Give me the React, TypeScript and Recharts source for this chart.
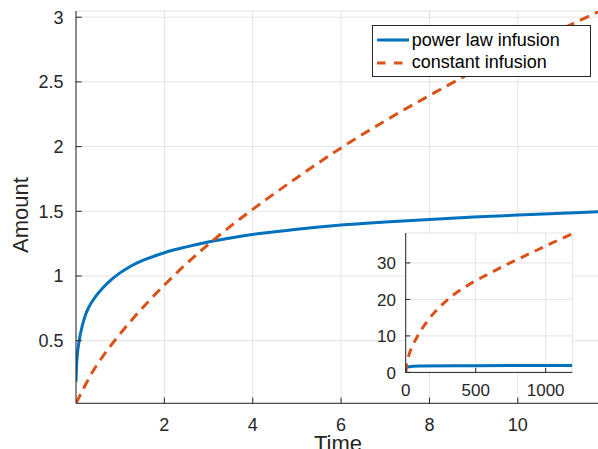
import React from "react";
import { LineChart, Line, XAxis, YAxis, CartesianGrid, Legend, Label } from "recharts";

// main axes: time vs amount
const powerT = [0, 0.01, 0.03, 0.075, 0.15, 0.226, 0.3, 0.45, 0.6, 0.8, 0.98, 1.2, 1.36, 1.7, 2, 2.5, 3.02, 3.6, 4.2, 5, 6, 7, 8, 9, 10, 11, 11.86];
const powerAmt = [0.183, 0.29, 0.39, 0.505, 0.625, 0.71, 0.765, 0.845, 0.905, 0.971, 1.02, 1.068, 1.097, 1.145, 1.18, 1.225, 1.265, 1.3, 1.33, 1.362, 1.394, 1.417, 1.437, 1.455, 1.471, 1.485, 1.497];

const constT = [0, 0.2, 0.376, 0.6, 0.98, 1.3, 1.66, 2, 2.5, 3.05, 3.5, 4, 5, 6, 7, 8, 9, 10, 11, 11.86];
const constAmt = [0.016, 0.15, 0.26, 0.375, 0.545, 0.675, 0.81, 0.93, 1.095, 1.26, 1.385, 1.515, 1.76, 1.99, 2.2, 2.395, 2.58, 2.745, 2.91, 3.048];

const xTicks = [2, 4, 6, 8, 10];
const yTicks = [0.5, 1, 1.5, 2, 2.5, 3];

// inset: long time range
const insetPowerT = [0, 1, 12, 100, 500, 1190];
const insetPowerAmt = [0.18, 1.02, 1.5, 1.75, 1.85, 1.9];

const insetConstT = [0, 3, 12, 25, 50, 90, 161, 245, 340, 459, 602, 745, 888, 1031, 1190];
const insetConstAmt = [0, 1.3, 3.05, 5.0, 7.4, 10.3, 14.4, 18.0, 21.2, 24.2, 27.2, 30.0, 32.6, 35.2, 38.0];

const insetXTicks = [0, 500, 1000];
const insetYTicks = [0, 10, 20, 30];

const seriesNames = ["power law infusion", "constant infusion"];

const BLUE = "#0072BD";
const ORANGE = "#D95319";
const AXIS = "#262626";
const GRID = "#e3e3e3";
const FONT = "'Liberation Sans', Arial, Helvetica, sans-serif";

const toRows = (ts: number[], vs: number[]) => ts.map((t, i) => ({ t, a: vs[i] }));

const powerData = toRows(powerT, powerAmt);
const constData = toRows(constT, constAmt);
const insetPowerData = toRows(insetPowerT, insetPowerAmt);
const insetConstData = toRows(insetConstT, insetConstAmt);

// tick factories: inward tick marks + labels
const makeBottomTick = (margin: number, len: number, fs: number) => (props: any) => {
  const { x, y, payload } = props;
  const ay = y - margin;
  return (
    <g>
      <line x1={x} x2={x} y1={ay} y2={ay - len} stroke={AXIS} />
      <text x={x} y={y} dy="0.36em" textAnchor="middle" fontSize={fs} fontFamily={FONT} fill={AXIS}>
        {payload.value}
      </text>
    </g>
  );
};

const makeLeftTick = (margin: number, len: number, fs: number) => (props: any) => {
  const { x, y, payload } = props;
  const ax = x + margin;
  return (
    <g>
      <line x1={ax} x2={ax + len} y1={y} y2={y} stroke={AXIS} />
      <text x={x} y={y} dy="0.36em" textAnchor="end" fontSize={fs} fontFamily={FONT} fill={AXIS}>
        {payload.value}
      </text>
    </g>
  );
};

const makeTopTick = (len: number) => (props: any) => {
  const { x, y } = props;
  return <line x1={x} x2={x} y1={y} y2={y + len} stroke={AXIS} />;
};

const makeRightTick = (len: number) => (props: any) => {
  const { x, y } = props;
  return <line x1={x} x2={x - len} y1={y} y2={y} stroke={AXIS} />;
};

const LegendBox = () => {
  const colors = [BLUE, ORANGE];
  const dashes = [undefined, "8.5 8.5"];
  return (
    <div
      style={{
        width: 219,
        height: 52,
        border: `1px solid ${AXIS}`,
        background: "#fff",
        boxSizing: "border-box",
        position: "relative",
        fontFamily: FONT,
        fontSize: 18,
        color: "#000",
      }}
    >
      {seriesNames.map((name, i) => (
        <div
          key={name}
          style={{ position: "absolute", left: 4, top: 3 + i * 22.7, height: 22, display: "flex", alignItems: "center", whiteSpace: "nowrap" }}
        >
          <svg width={32} height={22}>
            <line x1={0} x2={32} y1={11} y2={11} stroke={colors[i]} strokeWidth={3} strokeDasharray={dashes[i]} />
          </svg>
          <span style={{ marginLeft: 3 }}>{name}</span>
        </div>
      ))}
    </div>
  );
};

export default function App() {
  return (
    <div style={{ position: "fixed", left: 0, top: 0, width: 598, height: 449, overflow: "hidden", background: "#fff" }}>
      <LineChart width={620} height={449} margin={{ top: 11, right: 20, bottom: 0, left: 0 }}>
        <CartesianGrid stroke={GRID} strokeWidth={1} />
        <XAxis
          type="number"
          dataKey="t"
          domain={[0, 11.86]}
          ticks={xTicks}
          allowDataOverflow
          height={45.7}
          tickSize={0}
          tickMargin={21.3}
          tick={makeBottomTick(21.3, 5.7, 18)}
          axisLine={{ stroke: AXIS }}
          tickLine={false}
        >
          <Label
            content={(p: any) => {
              const vb = p.viewBox || {};
              return (
                <text x={vb.x + vb.width / 2} y={451} textAnchor="middle" fontSize={22} fontFamily={FONT} fill={AXIS}>
                  Time
                </text>
              );
            }}
          />
        </XAxis>
        <XAxis
          xAxisId="top"
          orientation="top"
          type="number"
          dataKey="t"
          domain={[0, 11.86]}
          ticks={xTicks}
          allowDataOverflow
          height={0}
          tickSize={0}
          tickMargin={0}
          tick={makeTopTick(5.7)}
          axisLine={{ stroke: AXIS }}
          tickLine={false}
        />
        <YAxis
          type="number"
          domain={[0.016, 3.048]}
          ticks={yTicks}
          allowDataOverflow
          width={76}
          tickSize={0}
          tickMargin={12.5}
          tick={makeLeftTick(12.5, 5.7, 18)}
          axisLine={{ stroke: AXIS }}
          tickLine={false}
        >
          <Label
            content={() => (
              <text x={28} y={215} transform="rotate(-90 28 215)" textAnchor="middle" fontSize={22} fontFamily={FONT} fill={AXIS}>
                Amount
              </text>
            )}
          />
        </YAxis>
        <Line
          data={powerData}
          dataKey="a"
          type="monotone"
          stroke={BLUE}
          strokeWidth={3}
          dot={false}
          isAnimationActive={false}
          name={seriesNames[0]}
        />
        <Line
          data={constData}
          dataKey="a"
          type="monotone"
          stroke={ORANGE}
          strokeWidth={3}
          strokeDasharray="10 6.5"
          dot={false}
          isAnimationActive={false}
          name={seriesNames[1]}
        />
        <Legend
          layout="horizontal"
          verticalAlign="middle"
          align="center"
          content={() => <LegendBox />}
          wrapperStyle={{ left: 371.7, top: 25, width: 219, height: 52 }}
        />
      </LineChart>

      <div style={{ position: "absolute", left: 365, top: 228.3 }}>
        <LineChart width={212.3} height={174.4} margin={{ top: 5, right: 5, bottom: 0, left: 0 }}>
          <CartesianGrid stroke={GRID} strokeWidth={1} fill="#fff" fillOpacity={1} />
          <XAxis
            type="number"
            dataKey="t"
            domain={[0, 1190]}
            ticks={insetXTicks}
            allowDataOverflow
            height={30}
            tickSize={0}
            tickMargin={17.3}
            tick={makeBottomTick(17.3, 4.5, 17)}
            axisLine={{ stroke: AXIS }}
            tickLine={false}
          />
          <XAxis
            xAxisId="top"
            orientation="top"
            type="number"
            dataKey="t"
            domain={[0, 1190]}
            ticks={insetXTicks}
            allowDataOverflow
            height={0}
            tickSize={0}
            tickMargin={0}
            tick={makeTopTick(4.5)}
            axisLine={{ stroke: AXIS }}
            tickLine={false}
          />
          <YAxis
            type="number"
            domain={[0, 38.2]}
            ticks={insetYTicks}
            allowDataOverflow
            width={40.7}
            tickSize={0}
            tickMargin={9.7}
            tick={makeLeftTick(9.7, 4.5, 17)}
            axisLine={{ stroke: AXIS }}
            tickLine={false}
          />
          <YAxis
            yAxisId="right"
            orientation="right"
            type="number"
            domain={[0, 38.2]}
            ticks={insetYTicks}
            allowDataOverflow
            width={0}
            tickSize={0}
            tickMargin={0}
            tick={makeRightTick(4.5)}
            axisLine={{ stroke: AXIS }}
            tickLine={false}
          />
          <Line
            data={insetPowerData}
            dataKey="a"
            type="monotone"
            stroke={BLUE}
            strokeWidth={3}
            dot={false}
            isAnimationActive={false}
          />
          <Line
            data={insetConstData}
            dataKey="a"
            type="monotone"
            stroke={ORANGE}
            strokeWidth={3}
            strokeDasharray="9 6.5"
            dot={false}
            isAnimationActive={false}
          />
        </LineChart>
      </div>
    </div>
  );
}
